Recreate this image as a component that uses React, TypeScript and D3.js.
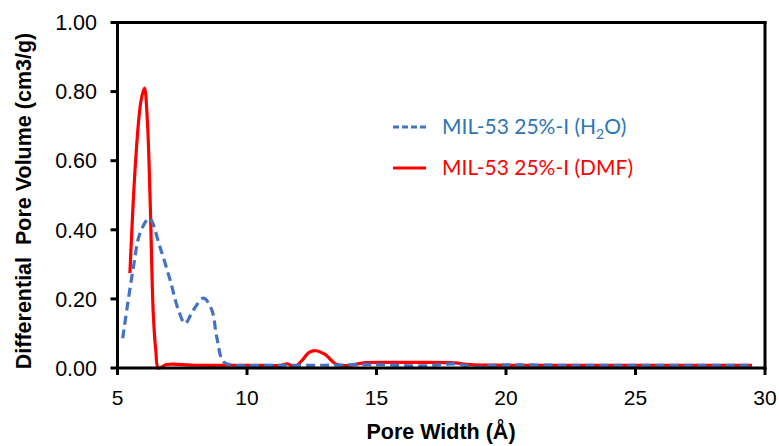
import React from "react";
import * as d3 from "d3";

const xTicks = [5, 10, 15, 20, 25, 30];
const yTicks = [0, 0.2, 0.4, 0.6, 0.8, 1.0];

const dmfX = [5.48, 5.7, 5.9, 6.04, 6.15, 6.26, 6.38, 6.48, 6.58, 6.9, 8, 10, 11.3, 11.55, 11.85, 12.1, 12.4, 12.65, 13.0, 13.47, 14.0, 14.5, 16, 18, 18.6, 20, 25, 29.5];
const dmfY = [0.275, 0.6, 0.77, 0.81, 0.72, 0.486, 0.16, 0.05, 0.0, 0.01, 0.008, 0.008, 0.008, 0.012, 0.004, 0.02, 0.045, 0.05, 0.04, 0.01, 0.008, 0.015, 0.016, 0.015, 0.01, 0.008, 0.008, 0.008];

const h2oX = [5.2, 5.61, 5.87, 6.23, 6.64, 7.03, 7.35, 7.61, 7.93, 8.32, 8.64, 8.83, 9.09, 9.47, 11, 13, 15, 16.8, 18, 18.9, 19.5, 22, 25, 29.5];
const h2oY = [0.086, 0.29, 0.39, 0.433, 0.35, 0.255, 0.168, 0.129, 0.168, 0.202, 0.168, 0.09, 0.018, 0.008, 0.008, 0.008, 0.01, 0.006, 0.012, 0.002, 0.008, 0.008, 0.008, 0.008];

const legendLabels = ["MIL-53 25%-I (H", "2", "O)"];
const legendLabel2 = "MIL-53 25%-I (DMF)";

export default function App() {
  const W = 779, H = 446;
  const x = d3.scaleLinear().domain([5, 30]).range([117.5, 765]);
  const y = d3.scaleLinear().domain([0, 1]).range([368, 22.5]);
  const line = d3
    .line<[number, number]>()
    .x((d) => x(d[0]))
    .y((d) => y(d[1]))
    .curve(d3.curveCatmullRom.alpha(0.5));
  const dmf = dmfX.map((v, i) => [v, dmfY[i]] as [number, number]);
  const h2o = h2oX.map((v, i) => [v, h2oY[i]] as [number, number]);
  const font = "Liberation Sans, Arial, sans-serif";
  const legFont = "Lato, sans-serif";
  const blue = "#4472C4";
  const blueText = "#2E75B6";
  return (
    <svg width={W} height={H} style={{ position: "absolute", left: 0, top: 0 }} fontFamily={font}>
      <rect width={W} height={H} fill="#fff" />
      {/* data */}
      <path d={line(dmf) || ""} fill="none" stroke="#FF0000" strokeWidth={3.2} strokeLinejoin="round" />
      <path d={line(h2o) || ""} fill="none" stroke={blue} strokeWidth={3.2} strokeDasharray="9,5" />
      {/* frame */}
      <line x1={x(5)} x2={x(5)} y1={y(1) - 1.5} y2={y(0) + 1.5} stroke="#000" strokeWidth={3} />
      <line x1={x(5) - 1.5} x2={x(30) + 1.5} y1={y(0)} y2={y(0)} stroke="#000" strokeWidth={3} />
      <line x1={x(5) - 1.5} x2={x(30) + 1.5} y1={y(1)} y2={y(1)} stroke="#000" strokeWidth={3} />
      <line x1={x(30)} x2={x(30)} y1={y(1) - 1.5} y2={y(0) + 1.5} stroke="#000" strokeWidth={3} />
      {yTicks.map((t) => (
        <g key={t}>
          <line x1={x(5) - 7} x2={x(5)} y1={y(t)} y2={y(t)} stroke="#000" strokeWidth={3} />
          <text x={97} y={y(t)} dy="0.36em" textAnchor="end" fontSize={21.5} fill="#000">
            {t.toFixed(2)}
          </text>
        </g>
      ))}
      {xTicks.map((t) => (
        <g key={t}>
          <line x1={x(t)} x2={x(t)} y1={y(0)} y2={y(0) + 7} stroke="#000" strokeWidth={3} />
          <text x={x(t)} y={405} textAnchor="middle" fontSize={21} fill="#000">
            {t}
          </text>
        </g>
      ))}
      <text x={441} y={439} textAnchor="middle" fontSize={21.5} fontWeight="bold" fill="#000">
        Pore Width (Å)
      </text>
      <text
        transform={`translate(31,${201}) rotate(-90)`}
        textAnchor="middle"
        fontSize={21.5}
        fontWeight="bold"
        fill="#000"
        style={{ whiteSpace: "pre" }}
      >
        {"Differential  Pore Volume (cm3/g)"}
      </text>
      {/* legend */}
      <line x1={393} x2={426} y1={127} y2={127} stroke={blue} strokeWidth={3} strokeDasharray="6,3" />
      <text x={442} y={127} dy="0.35em" fontSize={21} fill={blueText} fontFamily={legFont}>
        {legendLabels[0]}
        <tspan fontSize={14} dy="5">{legendLabels[1]}</tspan>
        <tspan dy="-5">{legendLabels[2]}</tspan>
      </text>
      <line x1={393} x2={426} y1={168} y2={168} stroke="#FF0000" strokeWidth={3.2} />
      <text x={442} y={168} dy="0.35em" fontSize={21} fill="#FF0000" fontFamily={legFont}>
        {legendLabel2}
      </text>
    </svg>
  );
}
